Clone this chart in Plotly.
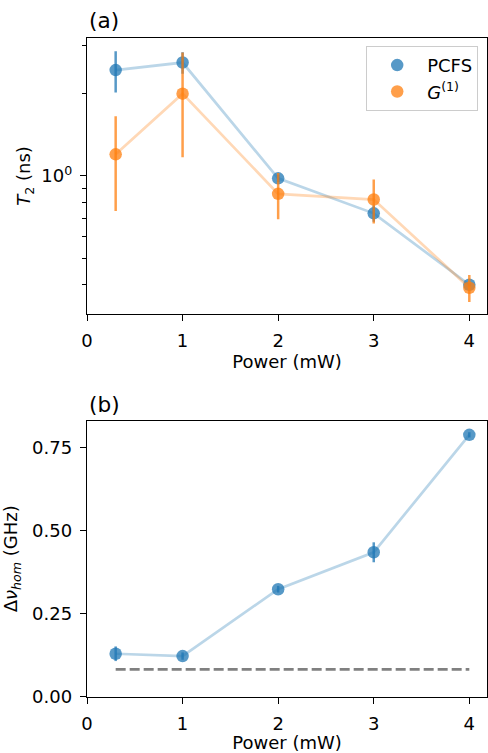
import numpy as np
import plotly.graph_objects as go

# Excitation power (mW)
power = [0.3, 1, 2, 3, 4]

# Coherence time T2 (ns) from PCFS and from first-order correlation G(1)
t2_pcfs = [2.44, 2.60, 0.98, 0.73, 0.40]
t2_pcfs_err = [0.42, 0.235, 0.03, 0.05, 0.006]
t2_g1 = [1.20, 2.00, 0.86, 0.82, 0.39]
t2_g1_err = [0.455, 0.83, 0.165, 0.15, 0.044]

# Homogeneous linewidth (GHz) and the lifetime limit
dnu_hom = [0.130, 0.123, 0.324, 0.435, 0.788]
dnu_hom_err = [0.022, 0.011, 0.010, 0.030, 0.008]
dnu_limit = 0.083

BLUE = "#1f77b4"
ORANGE = "#ff7f0e"
FONT = "DejaVu Sans"


def rgba(hex_color, a):
    h = hex_color.lstrip("#")
    r, g, b = (int(h[i:i + 2], 16) for i in (0, 2, 4))
    return f"rgba({r},{g},{b},{a})"


fig = go.Figure()

# --- panel (a): T2 vs power (log y) ---
for y, err, color, name in [
    (t2_pcfs, t2_pcfs_err, BLUE, "PCFS"),
    (t2_g1, t2_g1_err, ORANGE, "<i>G</i><sup>(1)</sup>"),
]:
    fig.add_trace(go.Scatter(
        x=power, y=y, mode="lines", xaxis="x", yaxis="y",
        line=dict(color=rgba(color, 0.3), width=2.7),
        showlegend=False, hoverinfo="skip",
    ))
    fig.add_trace(go.Scatter(
        x=power, y=y, mode="markers", name=name, xaxis="x", yaxis="y",
        marker=dict(color=rgba(color, 0.75), size=12.5),
        error_y=dict(type="data", array=err, color=rgba(color, 0.75),
                     thickness=2.5, width=0),
    ))

# --- panel (b): homogeneous linewidth vs power ---
fig.add_trace(go.Scatter(
    x=power, y=dnu_hom, mode="lines", xaxis="x2", yaxis="y2",
    line=dict(color=rgba(BLUE, 0.3), width=2.7),
    showlegend=False, hoverinfo="skip",
))
fig.add_trace(go.Scatter(
    x=power, y=dnu_hom, mode="markers", xaxis="x2", yaxis="y2",
    marker=dict(color=rgba(BLUE, 0.75), size=12.5),
    error_y=dict(type="data", array=dnu_hom_err, color=rgba(BLUE, 0.75),
                 thickness=2.5, width=0),
    showlegend=False,
))
fig.add_trace(go.Scatter(
    x=[power[0], power[-1]], y=[dnu_limit, dnu_limit], mode="lines",
    xaxis="x2", yaxis="y2",
    line=dict(color="rgba(128,128,128,1)", width=2.7, dash="10px,4px"),
    showlegend=False, hoverinfo="skip",
))

axis_common = dict(
    showline=True, linecolor="black", linewidth=1.4, mirror=True,
    ticks="outside", ticklen=6, tickwidth=1.4, tickcolor="black",
    showgrid=False, zeroline=False,
    tickfont=dict(family=FONT, size=18, color="black"),
    ticklabelstandoff=4,
)

xrange = [0, 4.185]
fig.update_layout(
    width=488, height=753,
    margin=dict(l=87, r=1, t=38, b=56),
    paper_bgcolor="white", plot_bgcolor="white",
    font=dict(family=FONT, size=18, color="black"),
    xaxis=dict(
        **axis_common, domain=[0, 1], anchor="y", range=xrange,
        tickvals=[0, 1, 2, 3, 4],
        title=dict(text="Power (mW)", font=dict(size=18), standoff=5),
    ),
    yaxis=dict(
        **axis_common, domain=[0.5814, 1], anchor="x", type="log",
        range=[np.log10(0.313), np.log10(3.197)],
        tickvals=[1], ticktext=["10<sup>0</sup>"],
        minor=dict(tickvals=[0.4, 0.5, 0.6, 0.7, 0.8, 0.9, 2, 3],
                   ticks="outside", ticklen=3.6, tickwidth=1.1,
                   tickcolor="black", showgrid=False),
        title=dict(text="<i>T</i><sub>2</sub> (ns)", font=dict(size=18), standoff=5),
    ),
    xaxis2=dict(
        **axis_common, domain=[0, 1], anchor="y2", range=xrange,
        tickvals=[0, 1, 2, 3, 4],
        title=dict(text="Power (mW)", font=dict(size=18), standoff=4),
    ),
    yaxis2=dict(
        **axis_common, domain=[0, 0.4195], anchor="x2",
        range=[0, 0.831], tickvals=[0, 0.25, 0.5, 0.75], tickformat=".2f",
        title=dict(text="Δ<i>ν</i><sub><i>hom</i></sub> (GHz)",
                   font=dict(size=18), standoff=10),
    ),
    legend=dict(
        x=0.978, y=0.988, xanchor="right", yanchor="top",
        bordercolor="#cccccc", borderwidth=1, bgcolor="rgba(255,255,255,0.8)",
        font=dict(family=FONT, size=18), itemwidth=50, tracegroupgap=4,
    ),
    annotations=[
        dict(text="(a)", xref="paper", yref="paper", x=0, y=1.026,
             xanchor="left", yanchor="middle", showarrow=False,
             font=dict(family=FONT, size=21.6)),
        dict(text="(b)", xref="paper", yref="paper", x=0, y=0.4433,
             xanchor="left", yanchor="middle", showarrow=False,
             font=dict(family=FONT, size=21.6)),
    ],
)

fig.write_html("out.html")
